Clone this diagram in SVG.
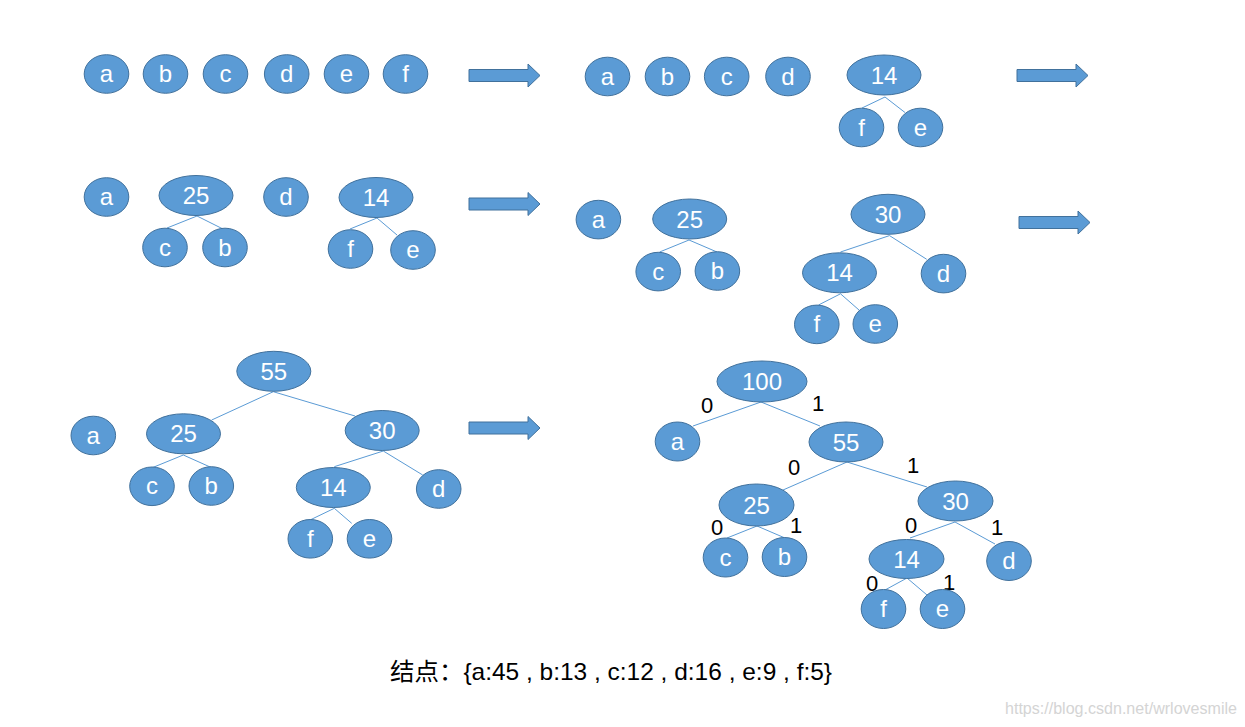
<svg xmlns="http://www.w3.org/2000/svg" xmlns:xlink="http://www.w3.org/1999/xlink" width="1245" height="727" viewBox="0 0 1245 727">
<style>
.n{fill:#5B9BD5;stroke:#41719C;stroke-width:1}
.t{fill:#fff;font-family:"Liberation Sans",Arial,sans-serif;font-size:24px;text-anchor:middle}
.e{stroke:#5B9BD5;stroke-width:1;fill:none}
.l{fill:#000;font-family:"Liberation Sans",Arial,sans-serif;font-size:22px;text-anchor:middle}
.ar{fill:#5B9BD5;stroke:#41719C;stroke-width:1}
</style>
<defs>
<path id="arr" d="M0,-6 H59 V-11.5 L71,0 L59,11.5 V6 H0 Z"/>
</defs>
<rect width="1245" height="727" fill="#fff"/>

<g id="arrows" class="ar">
<use xlink:href="#arr" href="#arr" x="469" y="75.5"/>
<use xlink:href="#arr" href="#arr" x="1017" y="75.5"/>
<use xlink:href="#arr" href="#arr" x="469" y="204"/>
<use xlink:href="#arr" href="#arr" x="1019" y="222.5"/>
<use xlink:href="#arr" href="#arr" x="469" y="428"/>
</g>

<g id="connectors" class="e">
<!-- block B -->
<line x1="885" y1="97" x2="862" y2="108"/>
<line x1="885" y1="97" x2="905" y2="112.5"/>
<!-- block C -->
<line x1="197" y1="216" x2="167" y2="228"/>
<line x1="197" y1="216" x2="223" y2="229"/>
<line x1="377" y1="218" x2="350" y2="229"/>
<line x1="377" y1="218" x2="397" y2="235"/>
<!-- block D -->
<line x1="689" y1="240" x2="659.6" y2="252"/>
<line x1="689" y1="240" x2="717" y2="252"/>
<line x1="889.5" y1="235.6" x2="840.5" y2="252"/>
<line x1="889.5" y1="235.6" x2="926.7" y2="259.3"/>
<line x1="840.5" y1="293.8" x2="818.5" y2="305"/>
<line x1="840.5" y1="293.8" x2="859" y2="310"/>
<!-- block E -->
<line x1="273.3" y1="391.7" x2="211.7" y2="420"/>
<line x1="273.3" y1="391.7" x2="355" y2="416"/>
<line x1="183.3" y1="455" x2="152.3" y2="467.7"/>
<line x1="183.3" y1="455" x2="211.7" y2="467.7"/>
<line x1="383.3" y1="451" x2="334.3" y2="466.7"/>
<line x1="383.3" y1="451" x2="422.7" y2="475"/>
<line x1="334.3" y1="508.3" x2="310" y2="520"/>
<line x1="334.3" y1="508.3" x2="351.7" y2="523.3"/>
<!-- block F -->
<line x1="761" y1="402" x2="693" y2="426"/>
<line x1="761" y1="402" x2="820" y2="426"/>
<line x1="847" y1="462" x2="783" y2="490"/>
<line x1="847" y1="462" x2="927" y2="487"/>
<line x1="757" y1="526" x2="727" y2="538"/>
<line x1="757" y1="526" x2="785" y2="538"/>
<line x1="955" y1="522" x2="910" y2="538"/>
<line x1="955" y1="522" x2="995" y2="544"/>
<line x1="907" y1="578" x2="885" y2="590"/>
<line x1="907" y1="578" x2="927" y2="595"/>
</g>

<g id="edge-labels" class="l">
<text x="707" y="413">0</text>
<text x="818" y="411">1</text>
<text x="794" y="475">0</text>
<text x="913" y="473">1</text>
<text x="717" y="535">0</text>
<text x="796" y="533">1</text>
<text x="911" y="533">0</text>
<text x="997" y="535">1</text>
<text x="872" y="591">0</text>
<text x="949" y="590">1</text>
</g>

<!-- Block A -->
<g id="A-a"><ellipse class="n" cx="106.5" cy="74" rx="22.3" ry="19.3"/><text class="t" x="106.5" y="82">a</text></g>
<g id="A-b"><ellipse class="n" cx="165.5" cy="74" rx="22.3" ry="19.3"/><text class="t" x="165.5" y="82">b</text></g>
<g id="A-c"><ellipse class="n" cx="225.5" cy="74" rx="22.3" ry="19.3"/><text class="t" x="225.5" y="82">c</text></g>
<g id="A-d"><ellipse class="n" cx="286.7" cy="74" rx="22.3" ry="19.3"/><text class="t" x="286.7" y="82">d</text></g>
<g id="A-e"><ellipse class="n" cx="346.5" cy="74" rx="22.3" ry="19.3"/><text class="t" x="346.5" y="82">e</text></g>
<g id="A-f"><ellipse class="n" cx="405.5" cy="74" rx="22.3" ry="19.3"/><text class="t" x="405.5" y="82">f</text></g>

<!-- Block B -->
<g id="B-a"><ellipse class="n" cx="607.5" cy="76.5" rx="22.3" ry="19.3"/><text class="t" x="607.5" y="84.5">a</text></g>
<g id="B-b"><ellipse class="n" cx="667.5" cy="76.5" rx="22.3" ry="19.3"/><text class="t" x="667.5" y="84.5">b</text></g>
<g id="B-c"><ellipse class="n" cx="726.7" cy="76.5" rx="22.3" ry="19.3"/><text class="t" x="726.7" y="84.5">c</text></g>
<g id="B-d"><ellipse class="n" cx="788" cy="76.5" rx="22.3" ry="19.3"/><text class="t" x="788" y="84.5">d</text></g>
<g id="B-14"><ellipse class="n" cx="884" cy="75" rx="37" ry="20"/><text class="t" x="884" y="83.5">14</text></g>
<g id="B-f"><ellipse class="n" cx="861.5" cy="127.5" rx="22.3" ry="19.3"/><text class="t" x="861.5" y="135.5">f</text></g>
<g id="B-e"><ellipse class="n" cx="920.5" cy="127.5" rx="22.3" ry="19.3"/><text class="t" x="920.5" y="135.5">e</text></g>

<!-- Block C -->
<g id="C-a"><ellipse class="n" cx="106.5" cy="197" rx="22.3" ry="19.3"/><text class="t" x="106.5" y="205">a</text></g>
<g id="C-25"><ellipse class="n" cx="196" cy="195.5" rx="37" ry="20"/><text class="t" x="196" y="204">25</text></g>
<g id="C-d"><ellipse class="n" cx="286" cy="197" rx="22.3" ry="19.3"/><text class="t" x="286" y="205">d</text></g>
<g id="C-14"><ellipse class="n" cx="376" cy="197.5" rx="37" ry="20"/><text class="t" x="376" y="206">14</text></g>
<g id="C-c"><ellipse class="n" cx="165" cy="247.5" rx="22.3" ry="19.3"/><text class="t" x="165" y="255.5">c</text></g>
<g id="C-b"><ellipse class="n" cx="225" cy="247.5" rx="22.3" ry="19.3"/><text class="t" x="225" y="255.5">b</text></g>
<g id="C-f"><ellipse class="n" cx="350.5" cy="249" rx="22.3" ry="19.3"/><text class="t" x="350.5" y="257">f</text></g>
<g id="C-e"><ellipse class="n" cx="413" cy="250" rx="22.3" ry="19.3"/><text class="t" x="413" y="258">e</text></g>

<!-- Block D -->
<g id="D-a"><ellipse class="n" cx="598.4" cy="219.6" rx="22.3" ry="19.3"/><text class="t" x="598.4" y="227.6">a</text></g>
<g id="D-25"><ellipse class="n" cx="689.7" cy="219" rx="37" ry="20"/><text class="t" x="689.7" y="227.5">25</text></g>
<g id="D-c"><ellipse class="n" cx="658.2" cy="271.6" rx="22.3" ry="19.3"/><text class="t" x="658.2" y="279.6">c</text></g>
<g id="D-b"><ellipse class="n" cx="717.4" cy="271" rx="22.3" ry="19.3"/><text class="t" x="717.4" y="279">b</text></g>
<g id="D-30"><ellipse class="n" cx="888" cy="214.3" rx="37" ry="20"/><text class="t" x="888" y="222.8">30</text></g>
<g id="D-14"><ellipse class="n" cx="839.5" cy="272.8" rx="37" ry="20"/><text class="t" x="839.5" y="281.3">14</text></g>
<g id="D-d"><ellipse class="n" cx="943.5" cy="273.6" rx="22.3" ry="19.3"/><text class="t" x="943.5" y="281.6">d</text></g>
<g id="D-f"><ellipse class="n" cx="816.8" cy="324.4" rx="22.3" ry="19.3"/><text class="t" x="816.8" y="332.4">f</text></g>
<g id="D-e"><ellipse class="n" cx="875.3" cy="324" rx="22.3" ry="19.3"/><text class="t" x="875.3" y="332">e</text></g>

<!-- Block E -->
<g id="E-55"><ellipse class="n" cx="273.8" cy="371.3" rx="37" ry="20"/><text class="t" x="273.8" y="379.8">55</text></g>
<g id="E-a"><ellipse class="n" cx="93.3" cy="435.5" rx="22.3" ry="19.3"/><text class="t" x="93.3" y="443.5">a</text></g>
<g id="E-25"><ellipse class="n" cx="183.5" cy="433.8" rx="37" ry="20"/><text class="t" x="183.5" y="442.3">25</text></g>
<g id="E-30"><ellipse class="n" cx="382.2" cy="430.5" rx="37" ry="20"/><text class="t" x="382.2" y="439">30</text></g>
<g id="E-c"><ellipse class="n" cx="152" cy="486.3" rx="22.3" ry="19.3"/><text class="t" x="152" y="494.3">c</text></g>
<g id="E-b"><ellipse class="n" cx="211.3" cy="486" rx="22.3" ry="19.3"/><text class="t" x="211.3" y="494">b</text></g>
<g id="E-14"><ellipse class="n" cx="333.3" cy="487.5" rx="37" ry="20"/><text class="t" x="333.3" y="496">14</text></g>
<g id="E-d"><ellipse class="n" cx="438.7" cy="489" rx="22.3" ry="19.3"/><text class="t" x="438.7" y="497">d</text></g>
<g id="E-f"><ellipse class="n" cx="310.3" cy="538.8" rx="22.3" ry="19.3"/><text class="t" x="310.3" y="546.8">f</text></g>
<g id="E-e"><ellipse class="n" cx="369.5" cy="538.8" rx="22.3" ry="19.3"/><text class="t" x="369.5" y="546.8">e</text></g>

<!-- Block F -->
<g id="F-100"><ellipse class="n" cx="762" cy="381.5" rx="45" ry="20.5"/><text class="t" x="762" y="390">100</text></g>
<g id="F-a"><ellipse class="n" cx="677.5" cy="441.5" rx="22.3" ry="19.5"/><text class="t" x="677.5" y="449.5">a</text></g>
<g id="F-55"><ellipse class="n" cx="846" cy="442" rx="37" ry="20"/><text class="t" x="846" y="450.5">55</text></g>
<g id="F-25"><ellipse class="n" cx="756.5" cy="505" rx="37.5" ry="21"/><text class="t" x="756.5" y="513.5">25</text></g>
<g id="F-30"><ellipse class="n" cx="955.5" cy="501" rx="37.5" ry="20"/><text class="t" x="955.5" y="509.5">30</text></g>
<g id="F-c"><ellipse class="n" cx="725.5" cy="557.5" rx="22.3" ry="19.5"/><text class="t" x="725.5" y="565.5">c</text></g>
<g id="F-b"><ellipse class="n" cx="784.5" cy="557" rx="22.3" ry="19.5"/><text class="t" x="784.5" y="565">b</text></g>
<g id="F-14"><ellipse class="n" cx="906.5" cy="559" rx="37.5" ry="19.5"/><text class="t" x="906.5" y="567.5">14</text></g>
<g id="F-d"><ellipse class="n" cx="1009" cy="561" rx="22.3" ry="19.5"/><text class="t" x="1009" y="569">d</text></g>
<g id="F-f"><ellipse class="n" cx="883.5" cy="609" rx="22.3" ry="19.5"/><text class="t" x="883.5" y="617">f</text></g>
<g id="F-e"><ellipse class="n" cx="942.5" cy="609" rx="22.3" ry="19.5"/><text class="t" x="942.5" y="617">e</text></g>

<g id="caption">
<text x="390" y="680" font-family="'Liberation Sans','Noto Sans CJK SC',sans-serif" font-size="24" fill="#000" textLength="442" lengthAdjust="spacingAndGlyphs">结点：{a:45 , b:13 , c:12 , d:16 , e:9 , f:5}</text>
<text x="1005" y="714" font-family="'Liberation Sans',Arial,sans-serif" font-size="16" fill="#d4d4d4" textLength="232" lengthAdjust="spacingAndGlyphs">https://blog.csdn.net/wrlovesmile</text>
</g>
</svg>
